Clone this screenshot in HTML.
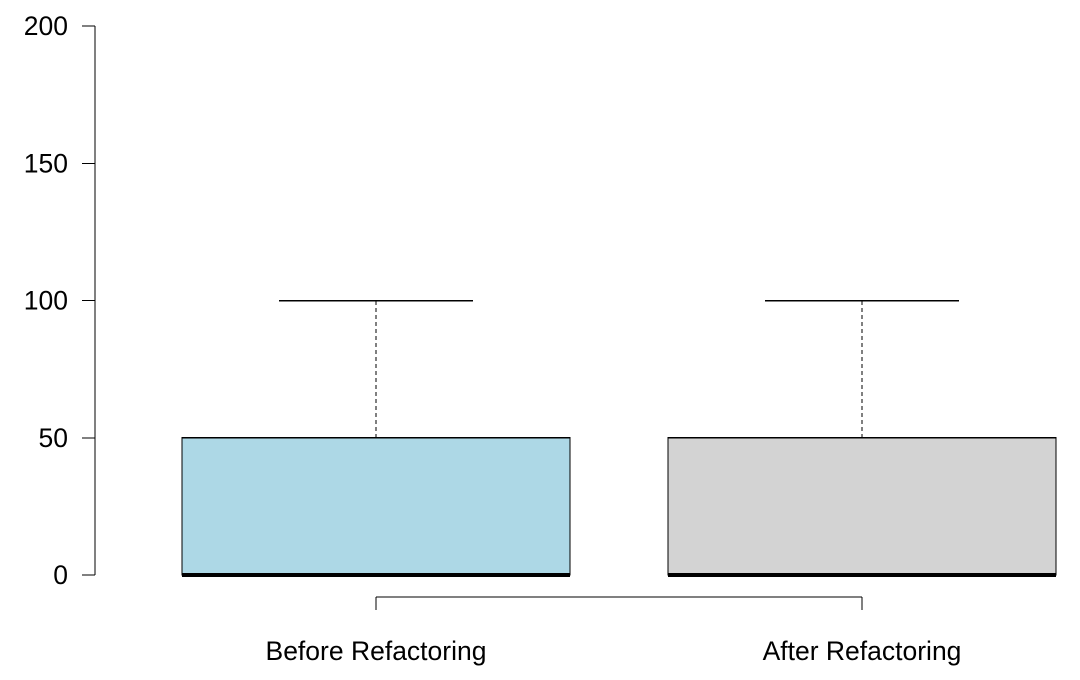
<!DOCTYPE html>
<html><head><meta charset="utf-8"><style>
html,body{margin:0;padding:0;background:#fff;}
svg{display:block;font-family:"Liberation Sans",Arial,sans-serif;}
line,rect{shape-rendering:crispEdges;}
</style></head><body>
<svg id="chart" width="1080" height="680" viewBox="0 0 1080 680" xmlns="http://www.w3.org/2000/svg"></svg>
<script>
const categories = ["Before Refactoring", "After Refactoring"];
const mins = [0, 0];
const q1s = [0, 0];
const medians = [0, 0];
const q3s = [50, 50];
const maxs = [100, 100];
const fills = ["#add8e6", "#d3d3d3"];
const yTicks = [0, 50, 100, 150, 200];

const svg = document.getElementById('chart');
const NS = 'http://www.w3.org/2000/svg';
const y = v => 575 - v * (549 / 200);
const xc = i => 376 + i * 486;
const boxHalf = 194, capHalf = 97;

function mk(tag, attrs, name) {
  const e = document.createElementNS(NS, tag);
  for (const k in attrs) e.setAttribute(k, attrs[k]);
  
  
  svg.appendChild(e);
  return e;
}

mk('line', {x1:95, x2:95, y1:y(yTicks[0]), y2:y(yTicks[yTicks.length-1]), stroke:'#000', 'stroke-width':1}, 'y-axis-line');
yTicks.forEach(t => {
  mk('line', {x1:82, x2:95, y1:y(t), y2:y(t), stroke:'#000', 'stroke-width':1}, 'y-tick');
  const tx = mk('text', {x:68, y:y(t)+9, 'text-anchor':'end', 'font-size':26.5}, 'y-tick-label');
  tx.textContent = t;
});

mk('line', {x1:xc(0), x2:xc(categories.length-1), y1:597, y2:597, stroke:'#000', 'stroke-width':1}, 'x-axis-line');
categories.forEach((c, i) => {
  mk('line', {x1:xc(i), x2:xc(i), y1:597, y2:610, stroke:'#000', 'stroke-width':1}, 'x-tick');
  const tx = mk('text', {x:xc(i), y:660, 'text-anchor':'middle', 'font-size':26.5}, 'x-tick-label');
  tx.textContent = c;
});

categories.forEach((c, i) => {
  const cx = xc(i);
  mk('line', {x1:cx, x2:cx, y1:y(q3s[i]), y2:y(maxs[i]), stroke:'#000', 'stroke-width':1, 'stroke-dasharray':'4,3'}, 'upper-whisker');
  mk('line', {x1:cx, x2:cx, y1:y(q1s[i]), y2:y(mins[i]), stroke:'#000', 'stroke-width':1, 'stroke-dasharray':'4,3'}, 'lower-whisker');
  mk('line', {x1:cx-capHalf, x2:cx+capHalf, y1:y(maxs[i]), y2:y(maxs[i]), stroke:'#000', 'stroke-width':1.5}, 'upper-whisker-cap');
  mk('line', {x1:cx-capHalf, x2:cx+capHalf, y1:y(mins[i]), y2:y(mins[i]), stroke:'#000', 'stroke-width':1.5}, 'lower-whisker-cap');
  mk('rect', {x:cx-boxHalf, y:y(q3s[i]), width:boxHalf*2, height:y(q1s[i])-y(q3s[i]), fill:fills[i], stroke:'#000', 'stroke-width':1.2}, 'box-' + (i===0?'before':'after'));
  mk('line', {x1:cx-boxHalf, x2:cx+boxHalf, y1:y(medians[i]), y2:y(medians[i]), stroke:'#000', 'stroke-width':4}, 'median-line');
});
</script>
</body></html>
